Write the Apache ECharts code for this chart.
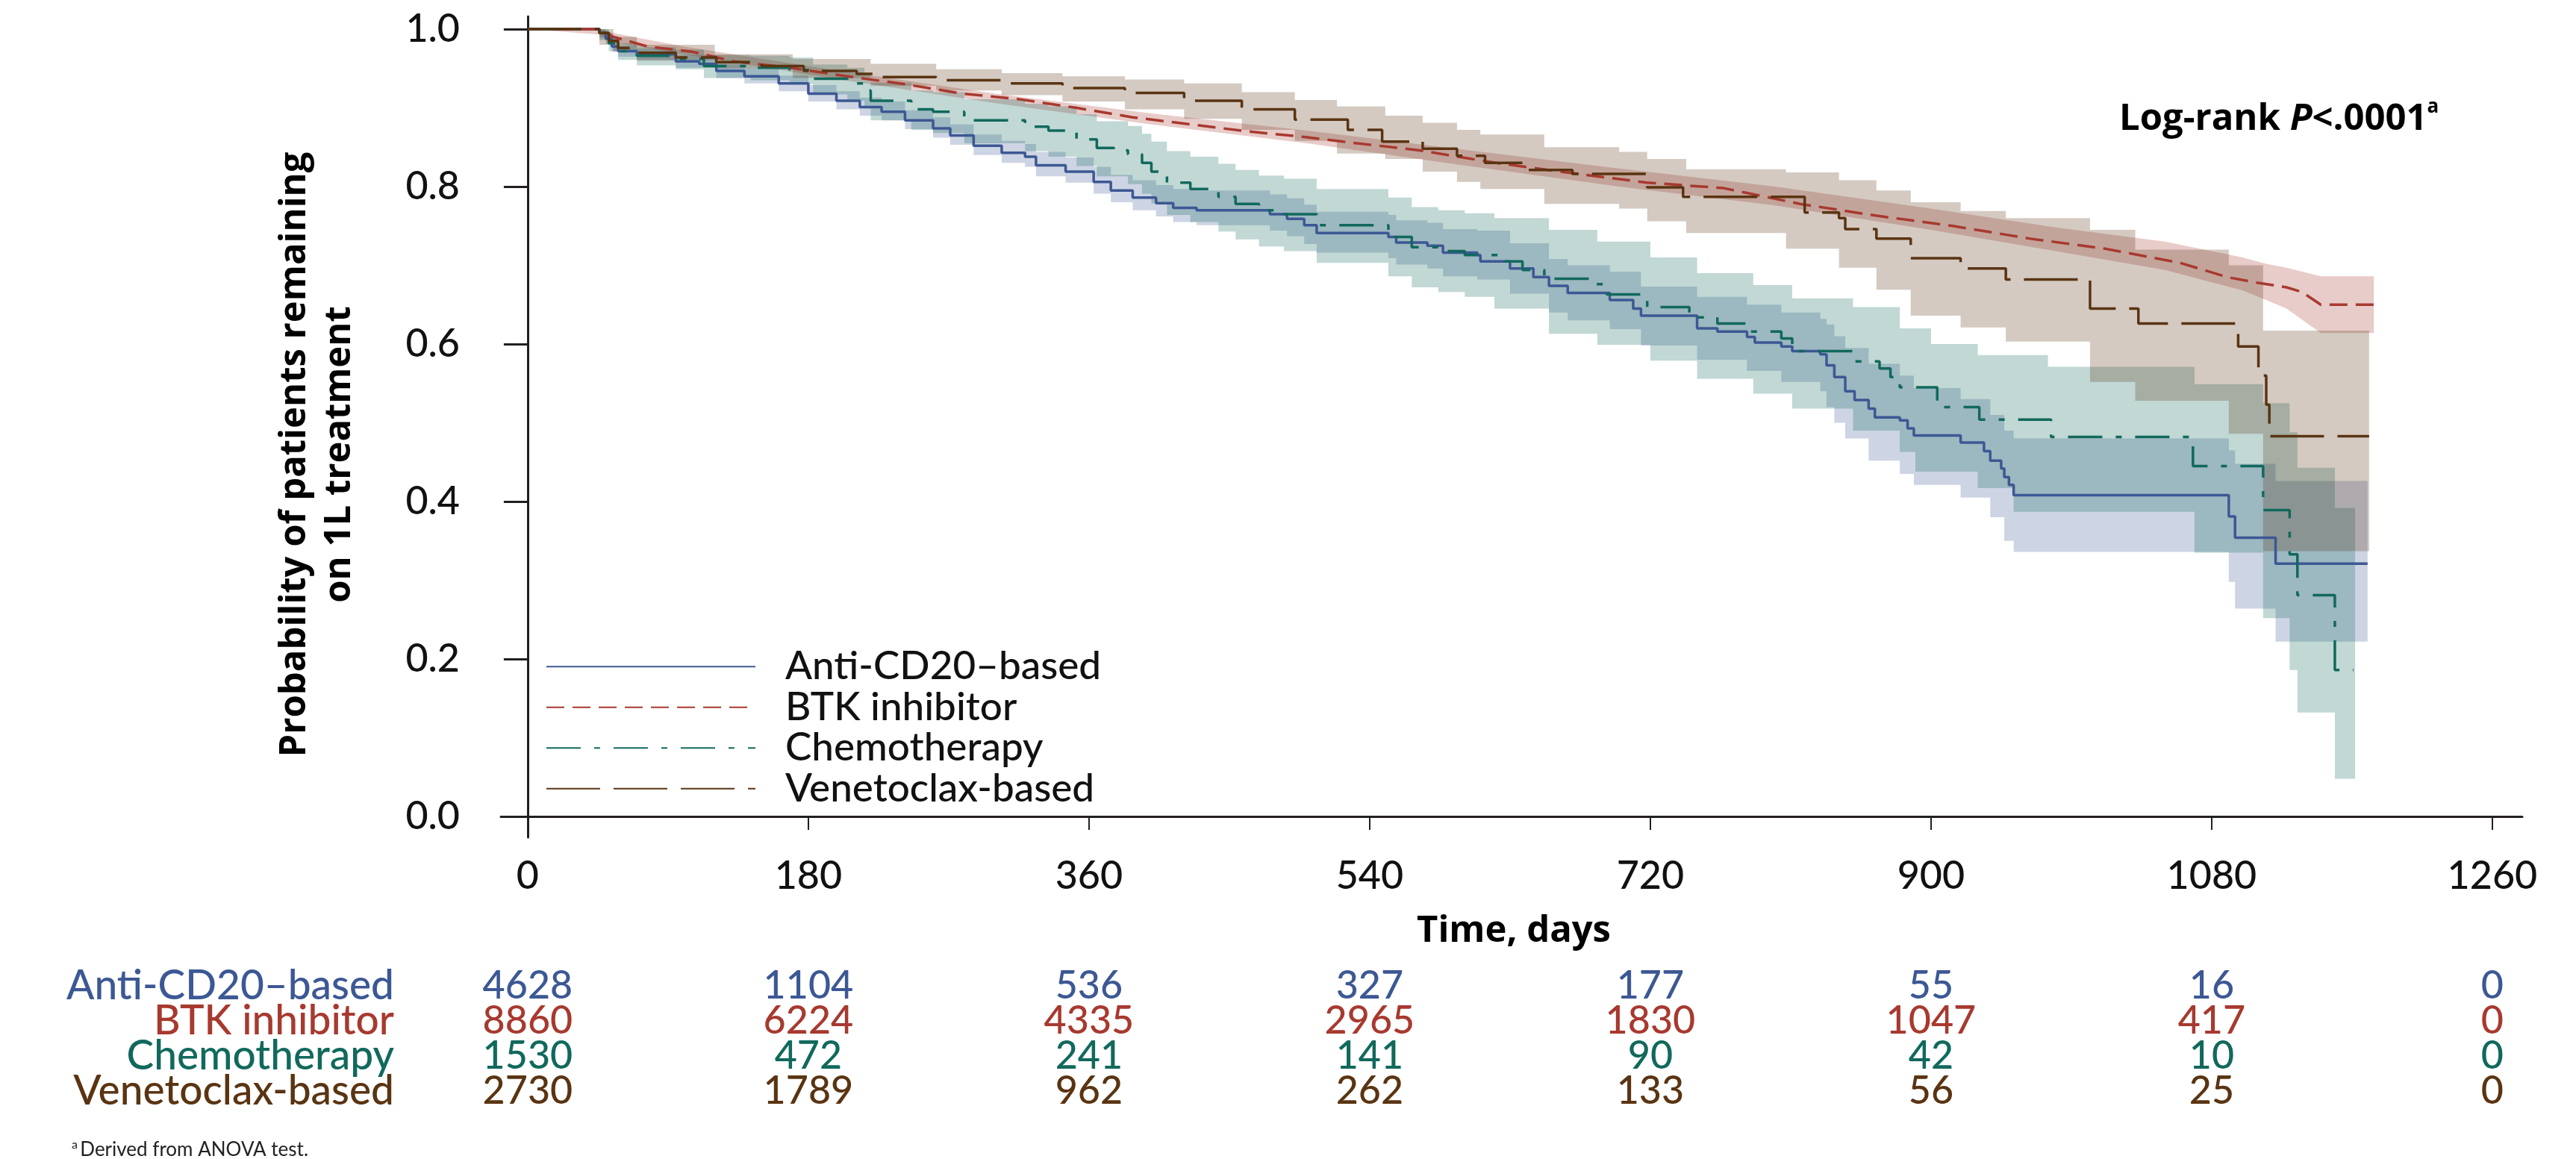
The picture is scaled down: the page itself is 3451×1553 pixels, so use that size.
<!DOCTYPE html>
<html>
<head>
<meta charset="utf-8">
<title>Probability of remaining on 1L treatment</title>
<script src="https://cdn.jsdelivr.net/npm/echarts@6/dist/echarts.min.js"></script>
<style>
html, body { margin: 0; padding: 0; background: #fff; }
#main { width: 3451px; height: 1553px; }
</style>
</head>
<body>
<div id="main"></div>
<script>
var groups = ['Anti-CD20–based', 'BTK inhibitor', 'Chemotherapy', 'Venetoclax-based'];
var colors = ['#3c5894', '#a8392f', '#11695c', '#5a3412'];

// axis ticks
var xTicks = [0, 180, 360, 540, 720, 900, 1080, 1260];
var yTicks = [0, 0.2, 0.4, 0.6, 0.8, 1.0];

// Anti-CD20-based: curve + 95% CI
var antiT = [0, 46, 50, 54, 58, 70, 95, 110, 121, 139, 161, 180, 198, 213, 227, 242, 260, 271, 286, 304, 319, 326, 345, 363, 374, 388, 403, 414, 429, 476, 487, 498, 506, 552, 557, 577, 587, 609, 611, 630, 645, 655, 667, 694, 709, 714, 750, 763, 782, 787, 804, 811, 829, 833, 838, 845, 851, 860, 864, 880, 885, 889, 919, 934, 938, 945, 947, 950, 953, 1091, 1095, 1121, 1180];
var antiS = [1.000, 0.995, 0.988, 0.978, 0.972, 0.968, 0.959, 0.956, 0.947, 0.940, 0.931, 0.918, 0.909, 0.901, 0.895, 0.884, 0.874, 0.865, 0.852, 0.843, 0.838, 0.827, 0.819, 0.806, 0.795, 0.786, 0.779, 0.773, 0.770, 0.765, 0.759, 0.751, 0.741, 0.736, 0.729, 0.725, 0.716, 0.713, 0.705, 0.696, 0.685, 0.674, 0.665, 0.656, 0.645, 0.636, 0.620, 0.616, 0.609, 0.602, 0.597, 0.591, 0.587, 0.573, 0.558, 0.540, 0.529, 0.518, 0.507, 0.503, 0.493, 0.484, 0.475, 0.464, 0.452, 0.442, 0.431, 0.421, 0.408, 0.381, 0.354, 0.321, 0.321];
var antiCiT = [0, 46, 50, 54, 58, 70, 95, 121, 139, 161, 180, 198, 213, 227, 242, 260, 271, 286, 304, 319, 326, 345, 363, 374, 388, 403, 414, 429, 476, 487, 498, 506, 552, 557, 577, 587, 609, 630, 655, 667, 694, 714, 750, 782, 804, 829, 833, 838, 845, 860, 880, 889, 919, 938, 947, 953, 1091, 1095, 1121, 1180];
var antiLo = [1.000, 0.989, 0.981, 0.971, 0.965, 0.961, 0.951, 0.938, 0.931, 0.921, 0.908, 0.898, 0.890, 0.884, 0.873, 0.862, 0.853, 0.840, 0.830, 0.825, 0.813, 0.805, 0.791, 0.780, 0.770, 0.762, 0.755, 0.751, 0.744, 0.737, 0.727, 0.716, 0.709, 0.701, 0.696, 0.686, 0.682, 0.664, 0.640, 0.630, 0.619, 0.598, 0.580, 0.566, 0.552, 0.540, 0.520, 0.500, 0.480, 0.452, 0.435, 0.421, 0.405, 0.380, 0.350, 0.336, 0.298, 0.264, 0.222, 0.222];
var antiHi = [1.000, 1.000, 0.994, 0.985, 0.979, 0.975, 0.967, 0.956, 0.950, 0.941, 0.929, 0.921, 0.913, 0.908, 0.897, 0.888, 0.879, 0.866, 0.858, 0.854, 0.844, 0.837, 0.825, 0.815, 0.808, 0.802, 0.797, 0.795, 0.790, 0.785, 0.777, 0.768, 0.764, 0.757, 0.754, 0.746, 0.744, 0.728, 0.708, 0.700, 0.692, 0.673, 0.660, 0.650, 0.640, 0.632, 0.625, 0.610, 0.595, 0.575, 0.560, 0.544, 0.530, 0.510, 0.490, 0.480, 0.465, 0.448, 0.426, 0.426];

// BTK inhibitor
var btkT = [0, 46, 55, 77, 106, 132, 168, 205, 242, 279, 315, 352, 388, 425, 462, 498, 523, 572, 621, 670, 718, 767, 816, 865, 914, 963, 1012, 1060, 1090, 1109, 1128, 1138, 1150, 1184];
var btkS = [1.000, 1.000, 0.990, 0.978, 0.971, 0.959, 0.951, 0.940, 0.930, 0.918, 0.911, 0.900, 0.888, 0.879, 0.870, 0.863, 0.857, 0.846, 0.830, 0.817, 0.805, 0.798, 0.778, 0.763, 0.750, 0.734, 0.721, 0.703, 0.685, 0.678, 0.672, 0.666, 0.650, 0.650];
var btkCiT = [0, 46, 55, 100, 200, 300, 400, 500, 600, 700, 800, 900, 980, 1050, 1100, 1115, 1128, 1150, 1184];
var btkLo = [1.000, 0.993, 0.983, 0.968, 0.936, 0.906, 0.879, 0.855, 0.827, 0.800, 0.776, 0.745, 0.718, 0.694, 0.668, 0.656, 0.645, 0.614, 0.614];
var btkHi = [1.000, 1.000, 0.995, 0.978, 0.947, 0.918, 0.893, 0.871, 0.847, 0.823, 0.800, 0.772, 0.748, 0.730, 0.710, 0.702, 0.697, 0.686, 0.686];

// Chemotherapy
var chemoT = [0, 46, 52, 58, 70, 95, 113, 143, 168, 183, 205, 216, 220, 246, 260, 280, 319, 334, 352, 365, 376, 385, 394, 400, 410, 425, 443, 454, 469, 485, 506, 552, 567, 584, 601, 626, 638, 652, 684, 692, 718, 745, 763, 782, 804, 811, 850, 867, 874, 880, 904, 931, 977, 1068, 1113, 1130, 1135, 1159, 1171];
var chemoS = [1.000, 0.995, 0.982, 0.972, 0.966, 0.962, 0.953, 0.951, 0.948, 0.937, 0.931, 0.922, 0.909, 0.898, 0.895, 0.884, 0.876, 0.871, 0.860, 0.849, 0.846, 0.841, 0.830, 0.819, 0.805, 0.797, 0.787, 0.778, 0.770, 0.765, 0.751, 0.736, 0.723, 0.718, 0.713, 0.705, 0.694, 0.683, 0.676, 0.663, 0.647, 0.634, 0.626, 0.616, 0.607, 0.591, 0.578, 0.569, 0.558, 0.545, 0.520, 0.504, 0.482, 0.445, 0.389, 0.333, 0.281, 0.186, 0.186];
var chemoCiT = [0, 46, 52, 58, 70, 95, 113, 143, 168, 183, 205, 216, 220, 246, 260, 280, 319, 334, 352, 365, 385, 394, 400, 410, 425, 443, 454, 469, 485, 506, 552, 567, 584, 601, 620, 655, 686, 720, 750, 786, 811, 850, 880, 890, 900, 930, 953, 975, 1069, 1113, 1130, 1135, 1159, 1172];
var chemoLo = [1.000, 0.986, 0.972, 0.961, 0.954, 0.949, 0.938, 0.935, 0.930, 0.917, 0.909, 0.899, 0.884, 0.872, 0.868, 0.855, 0.845, 0.838, 0.826, 0.813, 0.803, 0.791, 0.779, 0.764, 0.755, 0.743, 0.733, 0.724, 0.718, 0.703, 0.686, 0.672, 0.666, 0.660, 0.645, 0.613, 0.599, 0.579, 0.556, 0.537, 0.518, 0.490, 0.463, 0.438, 0.438, 0.417, 0.387, 0.387, 0.335, 0.252, 0.186, 0.132, 0.048, 0.048];
var chemoHi = [1.000, 1.000, 0.991, 0.982, 0.977, 0.974, 0.967, 0.966, 0.964, 0.955, 0.951, 0.943, 0.932, 0.922, 0.920, 0.911, 0.905, 0.902, 0.892, 0.883, 0.877, 0.867, 0.857, 0.845, 0.838, 0.829, 0.821, 0.814, 0.810, 0.797, 0.786, 0.774, 0.770, 0.766, 0.760, 0.745, 0.730, 0.710, 0.690, 0.675, 0.658, 0.647, 0.620, 0.620, 0.600, 0.586, 0.586, 0.571, 0.549, 0.525, 0.488, 0.443, 0.392, 0.392];

// Venetoclax-based
var venT = [0, 46, 52, 58, 70, 95, 121, 150, 177, 211, 227, 262, 304, 343, 383, 421, 458, 492, 526, 548, 574, 596, 614, 640, 670, 718, 741, 819, 841, 845, 865, 887, 919, 948, 1002, 1033, 1097, 1110, 1115, 1117, 1181];
var venS = [1.000, 0.995, 0.985, 0.976, 0.970, 0.964, 0.958, 0.953, 0.947, 0.943, 0.939, 0.935, 0.931, 0.925, 0.919, 0.909, 0.898, 0.885, 0.872, 0.857, 0.848, 0.839, 0.830, 0.821, 0.816, 0.799, 0.787, 0.767, 0.760, 0.746, 0.734, 0.709, 0.696, 0.682, 0.645, 0.626, 0.597, 0.560, 0.523, 0.483, 0.483];
var venCiT = [0, 46, 55, 70, 120, 170, 220, 262, 304, 343, 383, 421, 458, 492, 519, 550, 574, 596, 611, 652, 700, 718, 743, 807, 841, 865, 887, 919, 948, 1002, 1031, 1091, 1113, 1181];
var venLo = [1.000, 0.980, 0.972, 0.960, 0.950, 0.938, 0.928, 0.922, 0.916, 0.908, 0.898, 0.886, 0.872, 0.858, 0.842, 0.835, 0.819, 0.806, 0.797, 0.778, 0.772, 0.756, 0.741, 0.721, 0.697, 0.669, 0.636, 0.621, 0.603, 0.552, 0.528, 0.486, 0.337, 0.337];
var venHi = [1.000, 1.000, 0.990, 0.980, 0.968, 0.962, 0.956, 0.949, 0.944, 0.940, 0.936, 0.931, 0.920, 0.910, 0.902, 0.890, 0.881, 0.872, 0.866, 0.850, 0.844, 0.835, 0.822, 0.818, 0.808, 0.795, 0.780, 0.769, 0.760, 0.745, 0.720, 0.700, 0.617, 0.617];

// numbers at risk
var riskAnti = [4628, 1104, 536, 327, 177, 55, 16, 0];
var riskBtk = [8860, 6224, 4335, 2965, 1830, 1047, 417, 0];
var riskChemo = [1530, 472, 241, 141, 90, 42, 10, 0];
var riskVen = [2730, 1789, 962, 262, 133, 56, 25, 0];

var font = 'Lato';
var boldFont = 'Open Sans';

function pairs(t, v) {
	return t.map(function(x, i) { return [x, v[i]]; });
}

// confidence band drawn as one polygon through the axis scales
function band(key, t, lo, hi, color, step) {
	return {
		name: key + ' ci', type: 'custom', silent: true, z: 1,
		data: [[t[0], hi[0]]],
		renderItem: function(params, api) {
			var upper = [], lower = [];
			for (var i = 0; i < t.length; i++) {
				if (step && i > 0) {
					upper.push(api.coord([t[i], hi[i - 1]]));
					lower.push(api.coord([t[i], lo[i - 1]]));
				}
				upper.push(api.coord([t[i], hi[i]]));
				lower.push(api.coord([t[i], lo[i]]));
			}
			return {
				type: 'polygon',
				shape: { points: upper.concat(lower.reverse()) },
				style: { fill: color, opacity: 0.26 }
			};
		}
	};
}

function curve(name, t, s, color, dash, step) {
	return {
		name: name, type: 'line', data: pairs(t, s), step: step,
		symbol: 'none', silent: true, z: 3,
		itemStyle: { color: color },
		lineStyle: { color: color, width: 3.5, type: dash }
	};
}

function riskRow(name, counts, color) {
	return {
		name: name + ' at risk', type: 'scatter', xAxisIndex: 1, yAxisIndex: 1,
		data: xTicks.map(function(x, i) { return [x, name, counts[i]]; }),
		symbolSize: 1, silent: true,
		itemStyle: { color: 'rgba(0,0,0,0)', opacity: 1 },
		label: {
			show: true, position: 'inside', color: color, fontSize: 52,
			fontFamily: font, fontWeight: 500, opacity: 1,
			formatter: function(p) { return p.value[2]; }
		}
	};
}

var series = [
	band('anti', antiCiT, antiLo, antiHi, colors[0], true),
	band('btk', btkCiT, btkLo, btkHi, colors[1], false),
	band('chemo', chemoCiT, chemoLo, chemoHi, colors[2], true),
	band('ven', venCiT, venLo, venHi, colors[3], true),
	curve(groups[0], antiT, antiS, colors[0], 'solid', 'end'),
	curve(groups[1], btkT, btkS, colors[1], [24, 11], false),
	curve(groups[2], chemoT, chemoS, colors[2], [46, 18, 8, 18], 'end'),
	curve(groups[3], venT, venS, colors[3], [72, 18], 'end'),
	riskRow(groups[0], riskAnti, colors[0]),
	riskRow(groups[1], riskBtk, colors[1]),
	riskRow(groups[2], riskChemo, colors[2]),
	riskRow(groups[3], riskVen, colors[3])
];

var myChart = echarts.init(document.getElementById('main'));
var option = {
	animation: false,
	backgroundColor: '#fff',
	textStyle: { fontFamily: font },
	grid: [
		{ left: 671, top: 22, width: 2708, height: 1100 },
		{ left: 671, top: 1298, width: 2708, height: 188 }
	],
	legend: {
		data: groups,
		orient: 'vertical',
		left: 726,
		top: 861,
		itemWidth: 280,
		itemHeight: 20,
		itemGap: 0,
		selectedMode: false,
		itemStyle: { opacity: 0 },
		textStyle: { fontSize: 53, fontWeight: 500, color: '#111', lineHeight: 54.5, padding: [0, 0, 0, 35], fontFamily: font }
	},
	xAxis: [{
		type: 'value', min: -17.2, max: 1279.2,
		axisLine: { lineStyle: { color: '#231f20', width: 3 } },
		axisTick: { customValues: xTicks, length: 18, lineStyle: { color: '#231f20', width: 2 } },
		axisLabel: {
			customValues: xTicks, fontSize: 52, fontWeight: 500, color: '#111', margin: 26,
			formatter: function(v) { return String(v); }
		},
		splitLine: { show: false }
	}, {
		type: 'value', gridIndex: 1, min: -17.2, max: 1279.2, show: false
	}],
	yAxis: [{
		type: 'value', min: -0.0265, max: 1.0161,
		axisLine: { show: true, lineStyle: { color: '#231f20', width: 3 } },
		axisTick: { show: true, customValues: yTicks, length: 32, lineStyle: { color: '#231f20', width: 3 } },
		axisLabel: {
			customValues: yTicks, fontSize: 52, fontWeight: 500, color: '#111', margin: 55,
			formatter: function(v) { return v.toFixed(1); }
		},
		splitLine: { show: false }
	}, {
		type: 'category', gridIndex: 1, inverse: true, data: groups,
		axisLine: { show: false },
		axisTick: { show: false },
		axisLabel: {
			interval: 0, fontSize: 55, fontWeight: 500, margin: 143,
			color: function(v) { return colors[groups.indexOf(v)]; }
		}
	}],
	graphic: [{
		type: 'text', x: 425, y: 609, rotation: Math.PI / 2,
		style: {
			text: 'Probability of patients remaining\non 1L treatment',
			fontFamily: boldFont, fontWeight: 'bold', fontSize: 49, lineHeight: 60,
			fill: '#000', align: 'center', verticalAlign: 'middle'
		}
	}, {
		type: 'text', x: 2028, y: 1248,
		style: {
			text: 'Time, days', fontFamily: boldFont, fontWeight: 'bold', fontSize: 49,
			fill: '#000', align: 'center', verticalAlign: 'middle'
		}
	}, {
		type: 'text', x: 2839, y: 158,
		style: {
			text: '{b|Log-rank }{i|P}{b|<.0001}{s|a}',
			verticalAlign: 'middle',
			rich: {
				b: { fontFamily: boldFont, fontWeight: 'bold', fontSize: 49, fill: '#000', lineHeight: 54, verticalAlign: 'bottom' },
				i: { fontFamily: boldFont, fontWeight: 'bold', fontStyle: 'italic', fontSize: 49, fill: '#000', lineHeight: 54, verticalAlign: 'bottom' },
				s: { fontFamily: boldFont, fontWeight: 'bold', fontSize: 26, fill: '#000', lineHeight: 26, verticalAlign: 'top' }
			}
		}
	}, {
		type: 'text', x: 96, y: 1540,
		style: {
			text: '{s|a} {t|Derived from ANOVA test.}',
			verticalAlign: 'middle',
			rich: {
				t: { fontFamily: font, fontSize: 26, fill: '#222', lineHeight: 28, verticalAlign: 'bottom' },
				s: { fontFamily: font, fontSize: 16, fill: '#222', lineHeight: 16, verticalAlign: 'top' }
			}
		}
	}],
	series: series
};
myChart.setOption(option);
</script>
</body>
</html>
